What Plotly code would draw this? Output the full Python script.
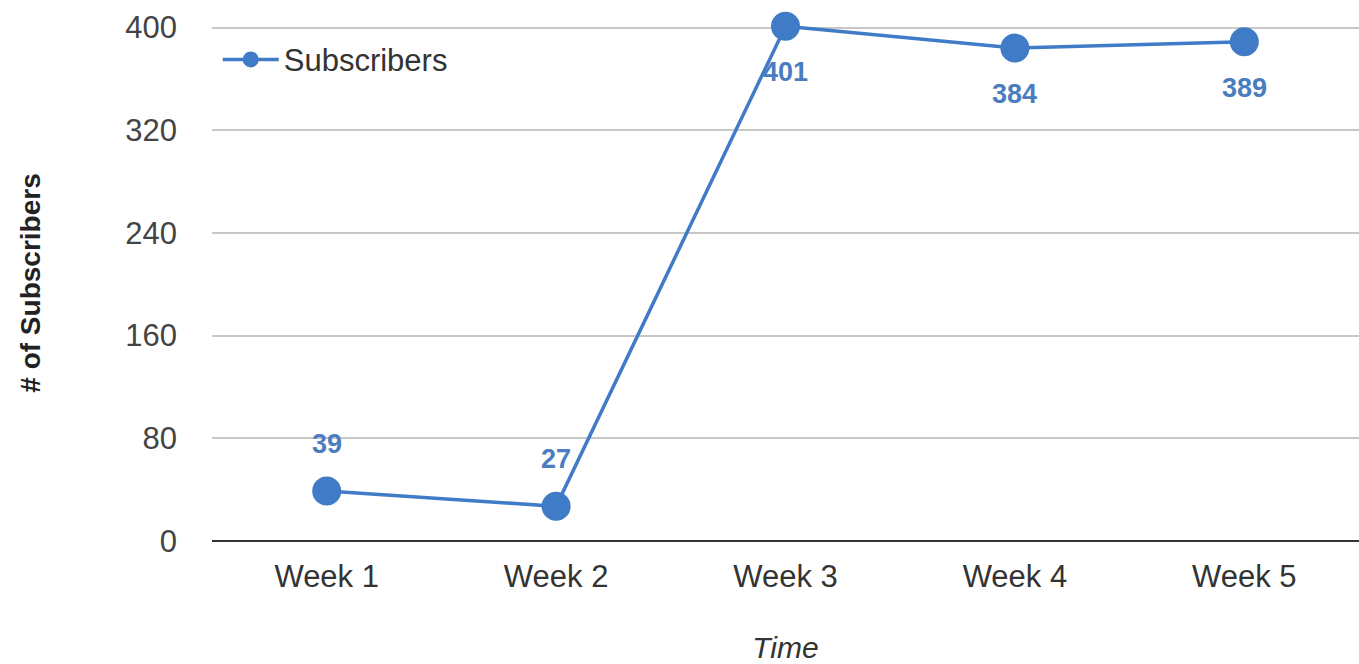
import plotly.graph_objects as go

weeks = ["Week 1", "Week 2", "Week 3", "Week 4", "Week 5"]
subscribers = [39, 27, 401, 384, 389]
label_above = [True, True, False, False, False]
y_ticks = [0, 80, 160, 240, 320, 400]

LINE = "#3f7bc6"
LABEL = "#4a7dbf"
FONT = "Liberation Sans, Arial, sans-serif"

fig = go.Figure()
fig.add_trace(go.Scatter(
    x=weeks, y=subscribers, mode="lines+markers", name="Subscribers",
    line=dict(color=LINE, width=3.5),
    marker=dict(color=LINE, size=29),
    cliponaxis=False,
))

for w, v, above in zip(weeks, subscribers, label_above):
    fig.add_annotation(
        x=w, y=v, text=f"<b>{v}</b>", showarrow=False,
        yshift=47 if above else -46,
        font=dict(family=FONT, size=27, color=LABEL),
    )

fig.update_layout(
    width=1359, height=664,
    margin=dict(l=212, r=0, t=25, b=123),
    paper_bgcolor="white", plot_bgcolor="white",
    font=dict(family=FONT, size=31, color="#444444"),
    showlegend=True,
    legend=dict(x=0.005, y=0.985, xanchor="left", yanchor="top",
                bgcolor="rgba(0,0,0,0)", itemsizing="trace", itemwidth=56,
                font=dict(family=FONT, size=31, color="#333333")),
    xaxis=dict(
        showgrid=False, showline=False, zeroline=False,
        ticks="", ticklabelstandoff=14,
        tickfont=dict(family=FONT, size=31, color="#333333"),
        title=dict(text="<i>Time</i>", standoff=44,
                   font=dict(family=FONT, size=30, color="#333333")),
        range=[-0.5, 4.5],
    ),
    yaxis=dict(
        range=[0, 402], tickvals=y_ticks,
        showgrid=True, gridcolor="#c8c8c8", gridwidth=1.5,
        zeroline=True, zerolinecolor="#333333", zerolinewidth=2,
        showline=False, ticks="", ticklabelstandoff=34,
        tickfont=dict(family=FONT, size=31, color="#444444"),
        title=dict(text="<b># of Subscribers</b>", standoff=76,
                   font=dict(family=FONT, size=28, color="#222222")),
    ),
)

fig.write_html("out.html")
